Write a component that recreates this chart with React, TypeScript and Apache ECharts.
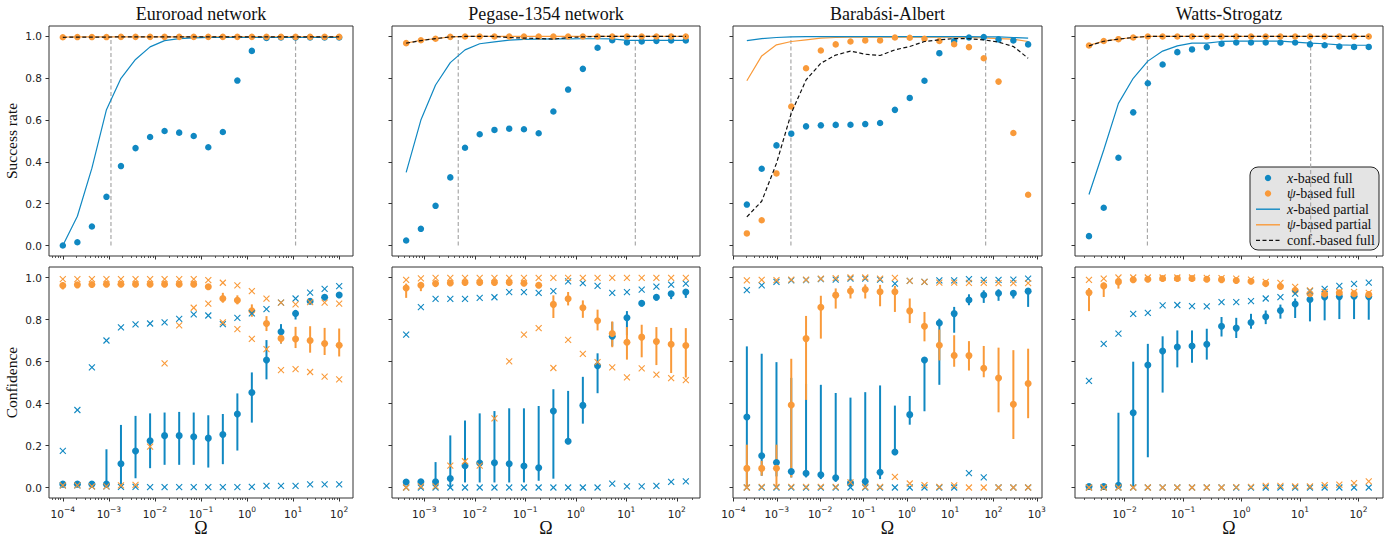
import React, { useEffect, useRef } from 'react';
import * as echarts from 'echarts';

const BLUE = '#1088c2';
const ORANGE = '#f99a3a';
const SERIF = "'Liberation Serif', 'DejaVu Serif', serif";
const SANS = "'DejaVu Sans', sans-serif";

const TITLES = ['Euroroad network', 'Pegase-1354 network', 'Barabási-Albert', 'Watts-Strogatz'];
const Y_TICKS = [0, 0.2, 0.4, 0.6, 0.8, 1.0];
const LEGEND_LABELS = ['x-based full', 'ψ-based full', 'x-based partial', 'ψ-based partial', 'conf.-based full'];

// ---------- Ω values (x) per network ----------
const OMEGA_EURO = [1.0e-4, 2.07e-4, 4.28e-4, 8.86e-4, 1.83e-3, 3.79e-3, 7.85e-3, 1.62e-2, 3.36e-2, 6.95e-2, 0.144, 0.298, 0.616, 1.27, 2.64, 5.46, 11.3, 23.4, 48.3, 100];
const OMEGA_PEGASE = [4.37e-4, 8.55e-4, 1.67e-3, 3.27e-3, 6.4e-3, 1.25e-2, 2.45e-2, 4.8e-2, 9.4e-2, 0.184, 0.36, 0.705, 1.38, 2.7, 5.27, 10.3, 20.2, 39.5, 77.4, 151];
const OMEGA_BA = [2.04e-4, 4.49e-4, 9.84e-4, 2.16e-3, 4.74e-3, 1.04e-2, 2.29e-2, 5.02e-2, 0.11, 0.242, 0.532, 1.17, 2.56, 5.64, 12.4, 27.2, 59.7, 131, 288, 631];
const OMEGA_WS = [2.45e-3, 4.38e-3, 7.82e-3, 1.4e-2, 2.49e-2, 4.46e-2, 7.96e-2, 0.142, 0.254, 0.454, 0.811, 1.45, 2.59, 4.62, 8.26, 14.8, 26.4, 47.1, 84.1, 150];

// axis extents (decades) and major tick decades
const X_MIN = [-4.3, -3.64, -4.01, -2.85];
const X_MAX = [2.3, 2.46, 3.12, 2.42];
const X_MAJOR = [[-4, -3, -2, -1, 0, 1, 2], [-3, -2, -1, 0, 1, 2], [-4, -3, -2, -1, 0, 1, 2, 3], [-2, -1, 0, 1, 2]];
const VLINES = [[1.11e-3, 11.3], [4.7e-3, 15.1], [2.12e-3, 66], [2.45e-2, 15.2]];

// ---------- success rate (top row) ----------
const EURO_X_FULL = [0.0, 0.016, 0.091, 0.233, 0.38, 0.466, 0.519, 0.548, 0.54, 0.524, 0.47, 0.543, 0.789, 0.931, 0.993, 0.995, 0.995, 0.995, 0.995, 0.995];
const EURO_PSI_FULL = [0.996, 0.997, 0.997, 0.997, 0.998, 0.998, 0.998, 0.998, 0.998, 0.998, 0.998, 0.998, 0.998, 0.998, 0.998, 0.998, 0.998, 0.998, 0.998, 0.998];
const EURO_X_PART = [0.0, 0.14, 0.37, 0.65, 0.8, 0.89, 0.95, 0.98, 0.99, 0.993, 0.995, 0.995, 0.995, 0.995, 0.995, 0.995, 0.995, 0.995, 0.995, 0.995];
const EURO_PSI_PART = [0.997, 0.998, 0.998, 0.998, 0.998, 0.998, 0.998, 0.998, 0.998, 0.998, 0.998, 0.998, 0.998, 0.998, 0.998, 0.998, 0.998, 0.998, 0.998, 0.998];
const EURO_CONF = [0.996, 0.997, 0.997, 0.997, 0.998, 0.998, 0.998, 0.998, 0.998, 0.998, 0.998, 0.998, 0.998, 0.998, 0.998, 0.998, 0.998, 0.998, 0.998, 0.998];

const PEG_X_FULL = [0.024, 0.08, 0.19, 0.326, 0.468, 0.532, 0.553, 0.559, 0.556, 0.537, 0.641, 0.746, 0.845, 0.946, 0.982, 0.971, 0.976, 0.979, 0.981, 0.981];
const PEG_PSI_FULL = [0.968, 0.982, 0.989, 0.998, 1.0, 1.0, 1.0, 1.0, 1.0, 1.0, 1.0, 1.0, 1.0, 1.0, 1.0, 1.0, 1.0, 1.0, 1.0, 1.0];
const PEG_X_PART = [0.35, 0.6, 0.768, 0.875, 0.936, 0.965, 0.974, 0.982, 0.986, 0.987, 0.988, 0.988, 0.989, 0.989, 0.988, 0.981, 0.981, 0.981, 0.981, 0.981];
const PEG_PSI_PART = [0.968, 0.982, 0.989, 0.998, 1.0, 1.0, 1.0, 1.0, 1.0, 1.0, 1.0, 1.0, 1.0, 1.0, 1.0, 1.0, 1.0, 1.0, 1.0, 1.0];
const PEG_CONF = [0.968, 0.98, 0.99, 0.998, 1.0, 1.0, 1.0, 0.995, 0.992, 0.99, 0.987, 0.995, 0.998, 1.0, 1.0, 1.0, 1.0, 1.0, 1.0, 1.0];

const BA_X_FULL = [0.196, 0.367, 0.479, 0.535, 0.57, 0.575, 0.577, 0.578, 0.581, 0.586, 0.649, 0.706, 0.788, 0.92, 0.978, 0.995, 0.997, 0.986, 0.981, 0.962];
const BA_PSI_FULL = [0.058, 0.121, 0.345, 0.665, 0.848, 0.933, 0.962, 0.976, 0.981, 0.981, 0.995, 0.994, 0.989, 0.978, 0.963, 0.949, 0.896, 0.784, 0.538, 0.243];
const BA_X_PART = [0.98, 0.99, 0.995, 0.998, 0.999, 0.999, 0.999, 0.999, 0.999, 0.999, 0.999, 0.999, 0.999, 0.999, 0.999, 0.999, 0.998, 0.998, 0.995, 0.992];
const BA_PSI_PART = [0.788, 0.907, 0.96, 0.976, 0.984, 0.992, 0.995, 0.997, 0.997, 0.997, 0.997, 0.997, 0.997, 0.997, 0.997, 0.995, 0.993, 0.99, 0.987, 0.976];
const BA_CONF = [0.137, 0.212, 0.393, 0.633, 0.792, 0.872, 0.911, 0.93, 0.915, 0.909, 0.936, 0.952, 0.976, 0.984, 0.99, 0.989, 0.984, 0.973, 0.952, 0.896];

const WS_X_FULL = [0.045, 0.181, 0.42, 0.637, 0.776, 0.866, 0.925, 0.938, 0.949, 0.965, 0.971, 0.971, 0.971, 0.971, 0.971, 0.962, 0.958, 0.952, 0.95, 0.95];
const WS_PSI_FULL = [0.957, 0.978, 0.987, 0.995, 1.0, 1.0, 1.0, 1.0, 1.0, 1.0, 1.0, 1.0, 1.0, 1.0, 1.0, 1.0, 1.0, 1.0, 1.0, 1.0];
const WS_X_PART = [0.244, 0.457, 0.68, 0.8, 0.882, 0.93, 0.955, 0.968, 0.968, 0.976, 0.978, 0.978, 0.978, 0.978, 0.973, 0.968, 0.965, 0.96, 0.958, 0.958];
const WS_PSI_PART = [0.957, 0.978, 0.987, 0.995, 1.0, 1.0, 1.0, 1.0, 1.0, 1.0, 1.0, 1.0, 1.0, 1.0, 1.0, 1.0, 1.0, 1.0, 1.0, 1.0];
const WS_CONF = [0.955, 0.977, 0.987, 0.995, 1.0, 1.0, 1.0, 1.0, 1.0, 1.0, 1.0, 1.0, 1.0, 1.0, 1.0, 1.0, 1.0, 1.0, 1.0, 1.0];

// ---------- confidence (bottom row) ----------
const EURO_XC_MEAN = [0.016, 0.016, 0.016, 0.016, 0.113, 0.174, 0.223, 0.247, 0.247, 0.242, 0.235, 0.252, 0.35, 0.452, 0.607, 0.742, 0.829, 0.887, 0.906, 0.917];
const EURO_XC_LO = [0.008, 0.008, 0.008, 0.0, 0.0, 0.044, 0.092, 0.108, 0.108, 0.108, 0.095, 0.111, 0.176, 0.309, 0.515, 0.686, 0.8, 0.875, 0.898, 0.91];
const EURO_XC_HI = [0.022, 0.022, 0.022, 0.182, 0.298, 0.341, 0.353, 0.357, 0.36, 0.357, 0.344, 0.35, 0.448, 0.548, 0.702, 0.778, 0.845, 0.897, 0.914, 0.922];
const EURO_PC_MEAN = [0.962, 0.965, 0.967, 0.968, 0.968, 0.968, 0.968, 0.968, 0.968, 0.968, 0.956, 0.9, 0.892, 0.842, 0.781, 0.71, 0.707, 0.7, 0.686, 0.677];
const EURO_PC_LO = [0.943, 0.955, 0.96, 0.962, 0.962, 0.962, 0.962, 0.962, 0.962, 0.962, 0.945, 0.88, 0.872, 0.813, 0.745, 0.686, 0.664, 0.642, 0.631, 0.624];
const EURO_PC_HI = [0.978, 0.975, 0.974, 0.974, 0.974, 0.974, 0.974, 0.974, 0.974, 0.974, 0.965, 0.927, 0.915, 0.872, 0.816, 0.75, 0.765, 0.768, 0.76, 0.757];
const EURO_XX_HI = [0.174, 0.369, 0.572, 0.7, 0.762, 0.777, 0.781, 0.786, 0.803, 0.824, 0.819, 0.778, 0.808, 0.829, 0.849, 0.88, 0.9, 0.928, 0.946, 0.959];
const EURO_XX_LO = [0.01, 0.01, 0.005, 0.005, 0.003, 0.003, 0.002, 0.002, 0.002, 0.002, 0.002, 0.002, 0.002, 0.003, 0.008, 0.008, 0.008, 0.015, 0.015, 0.015];
const EURO_PX_HI = [0.992, 0.992, 0.992, 0.992, 0.992, 0.992, 0.992, 0.992, 0.992, 0.992, 0.987, 0.975, 0.962, 0.935, 0.899, 0.88, 0.872, 0.883, 0.88, 0.876];
const EURO_PX_LO = [0.01, 0.01, 0.005, 0.005, 0.01, 0.012, 0.195, 0.591, 0.772, 0.856, 0.876, 0.786, 0.754, 0.708, 0.659, 0.559, 0.564, 0.55, 0.528, 0.515];

const PEG_XC_MEAN = [0.026, 0.027, 0.027, 0.043, 0.104, 0.117, 0.118, 0.113, 0.102, 0.094, 0.364, 0.22, 0.391, 0.58, 0.72, 0.808, 0.877, 0.906, 0.923, 0.931];
const PEG_XC_LO = [0.018, 0.02, 0.0, 0.0, 0.024, 0.024, 0.024, 0.024, 0.024, 0.032, 0.042, 0.22, 0.304, 0.449, 0.673, 0.725, 0.862, 0.89, 0.897, 0.903];
const PEG_XC_HI = [0.034, 0.034, 0.121, 0.248, 0.319, 0.353, 0.364, 0.377, 0.377, 0.388, 0.468, 0.46, 0.527, 0.639, 0.788, 0.84, 0.89, 0.92, 0.935, 0.944];
const PEG_PC_MEAN = [0.95, 0.963, 0.971, 0.974, 0.976, 0.976, 0.976, 0.976, 0.973, 0.963, 0.872, 0.899, 0.856, 0.794, 0.733, 0.692, 0.716, 0.695, 0.682, 0.676];
const PEG_PC_LO = [0.903, 0.935, 0.955, 0.96, 0.965, 0.965, 0.965, 0.965, 0.96, 0.95, 0.807, 0.867, 0.808, 0.748, 0.668, 0.609, 0.62, 0.583, 0.545, 0.524];
const PEG_PC_HI = [0.971, 0.979, 0.982, 0.982, 0.982, 0.982, 0.982, 0.982, 0.982, 0.979, 0.915, 0.931, 0.891, 0.847, 0.791, 0.764, 0.775, 0.764, 0.76, 0.759];
const PEG_XX_HI = [0.728, 0.859, 0.898, 0.898, 0.898, 0.903, 0.906, 0.93, 0.93, 0.927, 0.935, 0.982, 0.973, 0.96, 0.927, 0.93, 0.942, 0.957, 0.966, 0.971];
const PEG_XX_LO = [0.0, 0.0, 0.0, 0.0, 0.0, 0.0, 0.0, 0.0, 0.0, 0.0, 0.0, 0.0, 0.0, 0.0, 0.018, 0.005, 0.005, 0.008, 0.027, 0.029];
const PEG_PX_HI = [0.989, 0.996, 0.998, 0.998, 0.998, 0.998, 0.998, 0.998, 0.998, 0.998, 0.998, 0.998, 0.998, 0.998, 0.998, 0.998, 0.998, 0.998, 0.998, 0.998];
const PEG_PX_LO = [0.0, 0.005, 0.005, 0.104, 0.125, 0.104, 0.329, 0.601, 0.728, 0.759, 0.569, 0.703, 0.636, 0.597, 0.572, 0.524, 0.567, 0.537, 0.521, 0.511];

const BA_XC_MEAN = [0.336, 0.151, 0.119, 0.076, 0.068, 0.061, 0.046, 0.022, 0.029, 0.073, 0.169, 0.347, 0.607, 0.783, 0.828, 0.893, 0.917, 0.925, 0.925, 0.935];
const BA_XC_LO = [0.0, 0.056, 0.053, 0.048, 0.048, 0.04, 0.027, 0.008, 0.008, 0.04, 0.169, 0.299, 0.363, 0.489, 0.737, 0.868, 0.879, 0.889, 0.9, 0.86];
const BA_XC_HI = [0.672, 0.637, 0.597, 0.522, 0.494, 0.489, 0.45, 0.428, 0.454, 0.486, 0.39, 0.436, 0.607, 0.804, 0.86, 0.92, 0.939, 0.944, 0.939, 0.948];
const BA_PC_MEAN = [0.091, 0.091, 0.092, 0.393, 0.709, 0.858, 0.916, 0.936, 0.943, 0.932, 0.932, 0.841, 0.768, 0.677, 0.629, 0.628, 0.568, 0.521, 0.396, 0.495];
const BA_PC_LO = [0.0, 0.056, 0.0, 0.048, 0.417, 0.709, 0.852, 0.9, 0.9, 0.863, 0.836, 0.783, 0.696, 0.605, 0.575, 0.557, 0.525, 0.358, 0.231, 0.33];
const BA_PC_HI = [0.204, 0.127, 0.204, 0.613, 0.817, 0.913, 0.948, 0.96, 0.967, 0.965, 0.96, 0.9, 0.836, 0.752, 0.725, 0.697, 0.674, 0.666, 0.654, 0.661];
const BA_XX_HI = [0.94, 0.963, 0.979, 0.986, 0.987, 0.992, 0.99, 0.995, 0.995, 0.99, 0.971, 0.984, 0.979, 0.986, 0.986, 0.992, 0.989, 0.989, 0.99, 0.995];
const BA_XX_LO = [0.0, 0.0, 0.0, 0.0, 0.0, 0.0, 0.0, 0.0, 0.0, 0.0, 0.0, 0.0, 0.0, 0.0, 0.0, 0.068, 0.048, 0.0, 0.0, 0.0];
const BA_PX_HI = [0.986, 0.989, 0.987, 0.99, 0.99, 0.995, 0.997, 1.0, 1.0, 0.995, 0.998, 0.984, 0.979, 0.976, 0.976, 0.974, 0.974, 0.973, 0.973, 0.973];
const BA_PX_LO = [0.0, 0.003, 0.003, 0.003, 0.003, 0.003, 0.003, 0.024, 0.003, 0.003, 0.051, 0.019, 0.011, 0.003, 0.01, 0.0, 0.0, 0.0, 0.0, 0.0];

const WS_XC_MEAN = [0.005, 0.005, 0.01, 0.356, 0.583, 0.65, 0.669, 0.674, 0.682, 0.768, 0.759, 0.786, 0.813, 0.843, 0.874, 0.895, 0.907, 0.909, 0.911, 0.909];
const WS_XC_LO = [0.0, 0.0, 0.0, 0.0, 0.144, 0.452, 0.572, 0.594, 0.609, 0.719, 0.712, 0.756, 0.778, 0.804, 0.807, 0.791, 0.796, 0.802, 0.802, 0.799];
const WS_XC_HI = [0.01, 0.01, 0.356, 0.599, 0.684, 0.72, 0.748, 0.748, 0.756, 0.812, 0.808, 0.827, 0.843, 0.871, 0.9, 0.915, 0.927, 0.931, 0.934, 0.934];
const WS_PC_MEAN = [0.928, 0.96, 0.979, 0.989, 0.992, 0.995, 0.995, 0.995, 0.992, 0.99, 0.986, 0.982, 0.971, 0.957, 0.938, 0.923, 0.922, 0.927, 0.923, 0.919];
const WS_PC_LO = [0.84, 0.907, 0.947, 0.982, 0.987, 0.99, 0.99, 0.99, 0.987, 0.985, 0.98, 0.976, 0.962, 0.947, 0.926, 0.91, 0.908, 0.912, 0.908, 0.903];
const WS_PC_HI = [0.95, 0.976, 0.992, 0.995, 0.997, 0.999, 0.999, 0.999, 0.997, 0.995, 0.992, 0.988, 0.979, 0.966, 0.95, 0.935, 0.935, 0.94, 0.937, 0.933];
const WS_XX_HI = [0.508, 0.684, 0.733, 0.827, 0.832, 0.867, 0.869, 0.864, 0.863, 0.883, 0.883, 0.888, 0.9, 0.907, 0.923, 0.935, 0.946, 0.96, 0.97, 0.976];
const WS_XX_LO = [0.0, 0.0, 0.0, 0.0, 0.0, 0.0, 0.0, 0.0, 0.0, 0.0, 0.0, 0.0, 0.0, 0.0, 0.0, 0.0, 0.0, 0.0, 0.0, 0.0];
const WS_PX_HI = [0.989, 0.995, 1.0, 1.0, 1.0, 1.0, 1.0, 1.0, 0.998, 0.997, 0.995, 0.99, 0.979, 0.974, 0.955, 0.939, 0.931, 0.931, 0.931, 0.927];
const WS_PX_LO = [0.0, 0.0, 0.0, 0.0, 0.0, 0.0, 0.0, 0.0, 0.0, 0.0, 0.002, 0.003, 0.008, 0.008, 0.005, 0.005, 0.011, 0.014, 0.021, 0.029];

const NETS = [
  { omega: OMEGA_EURO, top: [EURO_X_FULL, EURO_PSI_FULL, EURO_X_PART, EURO_PSI_PART, EURO_CONF],
    bot: [EURO_XC_MEAN, EURO_XC_LO, EURO_XC_HI, EURO_PC_MEAN, EURO_PC_LO, EURO_PC_HI, EURO_XX_HI, EURO_XX_LO, EURO_PX_HI, EURO_PX_LO] },
  { omega: OMEGA_PEGASE, top: [PEG_X_FULL, PEG_PSI_FULL, PEG_X_PART, PEG_PSI_PART, PEG_CONF],
    bot: [PEG_XC_MEAN, PEG_XC_LO, PEG_XC_HI, PEG_PC_MEAN, PEG_PC_LO, PEG_PC_HI, PEG_XX_HI, PEG_XX_LO, PEG_PX_HI, PEG_PX_LO] },
  { omega: OMEGA_BA, top: [BA_X_FULL, BA_PSI_FULL, BA_X_PART, BA_PSI_PART, BA_CONF],
    bot: [BA_XC_MEAN, BA_XC_LO, BA_XC_HI, BA_PC_MEAN, BA_PC_LO, BA_PC_HI, BA_XX_HI, BA_XX_LO, BA_PX_HI, BA_PX_LO] },
  { omega: OMEGA_WS, top: [WS_X_FULL, WS_PSI_FULL, WS_X_PART, WS_PSI_PART, WS_CONF],
    bot: [WS_XC_MEAN, WS_XC_LO, WS_XC_HI, WS_PC_MEAN, WS_PC_LO, WS_PC_HI, WS_XX_HI, WS_XX_LO, WS_PX_HI, WS_PX_LO] },
];

// layout
const COL_LEFT = [49, 392, 733, 1075];
const COL_WIDTH = [304, 308, 309, 308];
const ROW_TOP = [26, 267];
const ROW_HEIGHT = [230, 231];

const L = (v: number) => Math.log10(v);

function minorTicks(min: number, max: number) {
  const out: number[] = [];
  for (let k = Math.floor(min); k <= Math.ceil(max); k++) {
    for (let m = 2; m <= 9; m++) {
      const e = k + Math.log10(m);
      if (e > min && e < max) out.push(e);
    }
  }
  return out;
}

function supLabel(v: number) {
  const e = Math.round(v);
  const s = e < 0 ? '\u2212' + -e : String(e);
  return '{b|10}{s|' + s + '}';
}

function errorBars(xi: number, yi: number, xs: number[], lo: number[], hi: number[], color: string) {
  return {
    type: 'custom', xAxisIndex: xi, yAxisIndex: yi, silent: true, z: 3,
    data: xs.map((x, i) => [L(x), lo[i], hi[i]]),
    encode: { x: 0, y: [1, 2] },
    renderItem: (_p: any, api: any) => {
      const a = api.coord([api.value(0), api.value(1)]);
      const b = api.coord([api.value(0), api.value(2)]);
      return { type: 'line', shape: { x1: a[0], y1: a[1], x2: b[0], y2: b[1] }, style: { stroke: color, lineWidth: 2 } };
    },
  };
}

function crosses(xi: number, yi: number, xs: number[], ys: number[], color: string, z: number) {
  return {
    type: 'custom', xAxisIndex: xi, yAxisIndex: yi, silent: true, z,
    data: xs.map((x, i) => [L(x), ys[i]]),
    encode: { x: 0, y: 1 },
    renderItem: (_p: any, api: any) => {
      const p = api.coord([api.value(0), api.value(1)]);
      const s = 3;
      const st = { stroke: color, lineWidth: 1.1 };
      return {
        type: 'group', children: [
          { type: 'line', shape: { x1: p[0] - s, y1: p[1] - s, x2: p[0] + s, y2: p[1] + s }, style: st },
          { type: 'line', shape: { x1: p[0] - s, y1: p[1] + s, x2: p[0] + s, y2: p[1] - s }, style: st },
        ],
      };
    },
  };
}

function legendGraphic() {
  const left = 1250;
  const top = 167;
  const w = 129;
  const h = 83;
  const rowH = 15.6;
  const y0 = 11;
  const children: any[] = [
    { type: 'rect', shape: { x: 0, y: 0, width: w, height: h, r: 8 }, style: { fill: '#e4e4e4', stroke: '#222', lineWidth: 1 } },
  ];
  const iconX0 = 6;
  const iconX1 = 30;
  const textX = 37;
  LEGEND_LABELS.forEach((label, i) => {
    const cy = y0 + i * rowH;
    if (i === 0 || i === 1) {
      children.push({ type: 'circle', shape: { cx: (iconX0 + iconX1) / 2, cy, r: 3.2 }, style: { fill: i === 0 ? BLUE : ORANGE } });
    } else if (i === 2 || i === 3) {
      children.push({ type: 'line', shape: { x1: iconX0, y1: cy, x2: iconX1, y2: cy }, style: { stroke: i === 2 ? BLUE : ORANGE, lineWidth: 1.4 } });
    } else {
      children.push({ type: 'line', shape: { x1: iconX0, y1: cy, x2: iconX1, y2: cy }, style: { stroke: '#111', lineWidth: 1.4, lineDash: [4, 2.5] } });
    }
    const txt = i === 4 ? label : '{i|' + label.slice(0, 1) + '}' + label.slice(1);
    children.push({
      type: 'text', x: textX, y: cy,
      style: {
        text: txt, fontFamily: SERIF, fontSize: 14, fill: '#111', align: 'left', verticalAlign: 'middle',
        rich: { i: { fontFamily: SERIF, fontSize: 14, fontStyle: 'italic', fill: '#111', color: '#111' } },
      },
    });
  });
  return { type: 'group', x: left, y: top, z: 100, children };
}

function buildOption() {
  const grid: any[] = [];
  const xAxis: any[] = [];
  const yAxis: any[] = [];
  const series: any[] = [];
  const graphic: any[] = [];

  NETS.forEach((net, c) => {
    const xs = net.omega;
    for (let row = 0; row < 2; row++) {
      const g = grid.length;
      grid.push({
        left: COL_LEFT[c], width: COL_WIDTH[c], top: ROW_TOP[row], height: ROW_HEIGHT[row],
        show: true, borderColor: '#333', borderWidth: 1, backgroundColor: 'transparent',
      });
      const common = {
        type: 'value', gridIndex: g, min: X_MIN[c], max: X_MAX[c], position: 'bottom',
        splitLine: { show: false }, axisLine: { show: false, onZero: false },
      };
      const xi = xAxis.length;
      xAxis.push({
        ...common,
        axisTick: { show: true, customValues: X_MAJOR[c], length: 3.5, lineStyle: { color: '#333', width: 1 } },
        axisLabel: row === 1 ? {
          show: true, customValues: X_MAJOR[c], formatter: supLabel, margin: 7, color: '#222',
          rich: {
            b: { fontSize: 10.5, fontFamily: SANS, color: '#222', verticalAlign: 'bottom', lineHeight: 14 },
            s: { fontSize: 7.5, fontFamily: SANS, color: '#222', verticalAlign: 'top', lineHeight: 9 },
          },
        } : { show: false },
      });
      xAxis.push({
        ...common,
        axisTick: { show: true, customValues: minorTicks(X_MIN[c], X_MAX[c]), length: 2, lineStyle: { color: '#333', width: 0.8 } },
        axisLabel: { show: false },
      });
      const yi = yAxis.length;
      yAxis.push({
        type: 'value', gridIndex: g, min: -0.05, max: 1.05, position: 'left',
        splitLine: { show: false }, axisLine: { show: false, onZero: false },
        axisTick: { show: true, customValues: Y_TICKS, length: 3.5, lineStyle: { color: '#333', width: 1 } },
        axisLabel: c === 0 ? {
          show: true, customValues: Y_TICKS, formatter: (v: number) => v.toFixed(1), fontSize: 10.5, fontFamily: SANS, color: '#222', margin: 7,
        } : { show: false },
        name: c === 0 ? (row === 0 ? 'Success rate' : 'Confidence') : '',
        nameLocation: 'middle', nameGap: 30, nameRotate: 90,
        nameTextStyle: { fontFamily: SERIF, fontSize: 15.5, color: '#111' },
      });
      if (row === 0) {
        VLINES[c].forEach((v) => {
          series.push({
            type: 'line', name: 'threshold', xAxisIndex: xi, yAxisIndex: yi, silent: true, symbol: 'none', z: 1,
            data: [[L(v), 0], [L(v), 1]],
            lineStyle: { color: '#a8a8a8', width: 1.2, type: [4, 2.5] },
          });
        });
        const [xFull, psiFull, xPart, psiPart, conf] = net.top;
        const line = (name: string, ys: number[], color: string, z: number, extra: any = {}) => ({
          type: 'line', name, xAxisIndex: xi, yAxisIndex: yi, symbol: 'none', silent: true, z,
          data: xs.map((x, i) => [L(x), ys[i]]),
          lineStyle: { color, width: 1.2, ...extra }, itemStyle: { color },
        });
        series.push(line('ψ-based partial', psiPart, ORANGE, 2));
        series.push(line('x-based partial', xPart, BLUE, 2));
        const dots = (name: string, ys: number[], color: string, z: number) => ({
          type: 'scatter', name, xAxisIndex: xi, yAxisIndex: yi, symbol: 'circle', symbolSize: 6.5, silent: true, z,
          data: xs.map((x, i) => [L(x), ys[i]]), itemStyle: { color, opacity: 1 },
        });
        series.push(dots('x-based full', xFull, BLUE, 3));
        series.push(dots('ψ-based full', psiFull, ORANGE, 4));
        series.push(line('conf.-based full', conf, '#111', 5, { type: [4, 2.5] }));
      } else {
        const [xm, xl, xh, pm, pl, ph, xxh, xxl, pxh, pxl] = net.bot;
        series.push(errorBars(xi, yi, xs, xl, xh, BLUE));
        series.push({
          type: 'scatter', name: 'x-based conf', xAxisIndex: xi, yAxisIndex: yi, symbol: 'circle', symbolSize: 7, silent: true, z: 3,
          data: xs.map((x, i) => [L(x), xm[i]]), itemStyle: { color: BLUE, opacity: 1 },
        });
        series.push(errorBars(xi, yi, xs, pl, ph, ORANGE));
        series.push({
          type: 'scatter', name: 'ψ-based conf', xAxisIndex: xi, yAxisIndex: yi, symbol: 'circle', symbolSize: 7, silent: true, z: 3,
          data: xs.map((x, i) => [L(x), pm[i]]), itemStyle: { color: ORANGE, opacity: 1 },
        });
        series.push(crosses(xi, yi, xs, xxh, BLUE, 4));
        series.push(crosses(xi, yi, xs, xxl, BLUE, 4));
        series.push(crosses(xi, yi, xs, pxh, ORANGE, 5));
        series.push(crosses(xi, yi, xs, pxl, ORANGE, 5));
      }
    }
    const cx = COL_LEFT[c] + COL_WIDTH[c] / 2;
    graphic.push({
      type: 'text', x: cx, y: 13.5,
      style: { text: TITLES[c], fontFamily: SERIF, fontSize: 18, fill: '#111', align: 'center', verticalAlign: 'middle' },
    });
    graphic.push({
      type: 'text', x: cx, y: 528,
      style: { text: 'Ω', fontFamily: SERIF, fontSize: 18, fill: '#111', align: 'center', verticalAlign: 'middle' },
    });
  });
  graphic.push(legendGraphic());

  return {
    animation: false,
    backgroundColor: '#ffffff',
    grid, xAxis, yAxis, series, graphic,
  };
}

export default function App() {
  const ref = useRef<HTMLDivElement>(null);
  useEffect(() => {
    if (!ref.current) return;
    const chart = echarts.init(ref.current, undefined, { renderer: 'svg' });
    chart.setOption(buildOption() as any);
    return () => chart.dispose();
  }, []);
  return <div ref={ref} style={{ width: 1395, height: 541, position: 'absolute', left: 0, top: 0 }} />;
}
